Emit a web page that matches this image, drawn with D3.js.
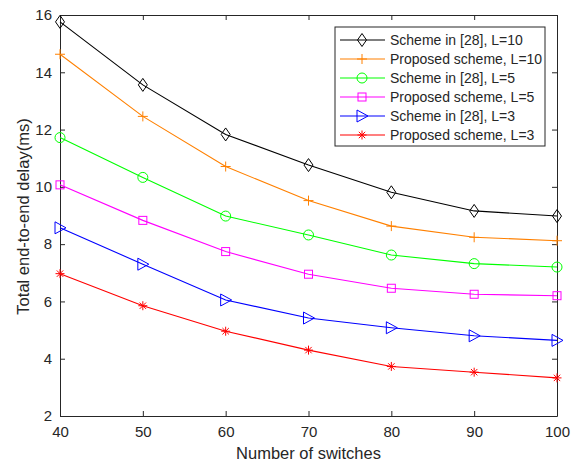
<!DOCTYPE html>
<html>
<head>
<meta charset="utf-8">
<script src="https://cdn.jsdelivr.net/npm/d3@7"></script>
<style>
  body { margin: 0; background: #fff; }
  text { font-family: "Liberation Sans", Arial, sans-serif; fill: #262626; }
</style>
</head>
<body>
<div id="chart"></div>
<script>
// data
const switches = [40, 50, 60, 70, 80, 90, 100];
const schemeL10 = [15.76, 13.56, 11.83, 10.76, 9.81, 9.16, 8.98];
const proposedL10 = [14.63, 12.46, 10.71, 9.52, 8.63, 8.24, 8.12];
const schemeL5 = [11.72, 10.33, 8.98, 8.32, 7.62, 7.32, 7.20];
const proposedL5 = [10.07, 8.83, 7.74, 6.95, 6.46, 6.25, 6.20];
const schemeL3 = [8.57, 7.30, 6.05, 5.42, 5.08, 4.80, 4.64];
const proposedL3 = [6.97, 5.85, 4.96, 4.30, 3.73, 3.53, 3.33];
const seriesNames = ["Scheme in [28], L=10", "Proposed scheme, L=10", "Scheme in [28], L=5",
                     "Proposed scheme, L=5", "Scheme in [28], L=3", "Proposed scheme, L=3"];
const xTicks = [40, 50, 60, 70, 80, 90, 100];
const yTicks = [2, 4, 6, 8, 10, 12, 14, 16];

const series = [
  {name: seriesNames[0], values: schemeL10, color: "#000000", marker: "diamond"},
  {name: seriesNames[1], values: proposedL10, color: "#ff8000", marker: "plus"},
  {name: seriesNames[2], values: schemeL5, color: "#00ff00", marker: "circle"},
  {name: seriesNames[3], values: proposedL5, color: "#ff00ff", marker: "square"},
  {name: seriesNames[4], values: schemeL3, color: "#0000ff", marker: "triangle"},
  {name: seriesNames[5], values: proposedL3, color: "#ff0000", marker: "star"}
];

const W = 581, H = 463;
const margin = {top: 15, right: 24, bottom: 47, left: 60};
const width = W - margin.left - margin.right,
      height = H - margin.top - margin.bottom;

const svg = d3.select("#chart").append("svg")
    .attr("width", W).attr("height", H);
const g = svg.append("g")
    .attr("transform", "translate(" + margin.left + "," + margin.top + ")");

const x = d3.scaleLinear().domain([40, 100]).range([0, width]);
const y = d3.scaleLinear().domain([2, 16]).range([height, 0]);

// axes with inward ticks on all four sides (matlab box)
const tick = 5;
g.append("g").attr("transform", "translate(0," + height + ")")
  .call(d3.axisBottom(x).tickValues(xTicks).tickSizeInner(-tick).tickSizeOuter(0).tickPadding(10))
  .call(a => a.selectAll("text").style("font-size", "15px"));
g.append("g")
  .call(d3.axisLeft(y).tickValues(yTicks).tickSizeInner(-tick).tickSizeOuter(0).tickPadding(8))
  .call(a => a.selectAll("text").style("font-size", "15px"));
g.append("g")
  .call(d3.axisTop(x).tickValues(xTicks).tickSizeInner(-tick).tickSizeOuter(0).tickFormat(""));
g.append("g").attr("transform", "translate(" + width + ",0)")
  .call(d3.axisRight(y).tickValues(yTicks).tickSizeInner(-tick).tickSizeOuter(0).tickFormat(""));
g.selectAll(".domain, .tick line").attr("stroke", "#262626");

// axis titles
svg.append("text")
  .attr("x", margin.left + width / 2).attr("y", 459)
  .attr("text-anchor", "middle").style("font-size", "16.5px")
  .text("Number of switches");
svg.append("text")
  .attr("transform", "translate(29," + (margin.top + height / 2 + 1) + ") rotate(-90)")
  .attr("text-anchor", "middle").style("font-size", "16.5px")
  .text("Total end-to-end delay(ms)");

function drawMarker(sel, type, color) {
  if (type === "diamond") {
    sel.append("path").attr("d", "M0,-6.5L4.5,0L0,6.5L-4.5,0Z")
      .attr("fill", "none").attr("stroke", color);
  } else if (type === "plus") {
    sel.append("path").attr("d", "M-5,0H5M0,-5V5").attr("stroke", color);
  } else if (type === "circle") {
    sel.append("circle").attr("r", 5).attr("fill", "none").attr("stroke", color);
  } else if (type === "square") {
    sel.append("rect").attr("x", -4).attr("y", -4).attr("width", 8).attr("height", 8)
      .attr("fill", "none").attr("stroke", color);
  } else if (type === "triangle") {
    sel.append("path").attr("d", "M6,0L-5,-6L-5,6Z")
      .attr("fill", "none").attr("stroke", color);
  } else if (type === "star") {
    sel.append("path").attr("d", "M-4.5,0H4.5M0,-4.5V4.5M-3.2,-3.2L3.2,3.2M-3.2,3.2L3.2,-3.2")
      .attr("stroke", color);
  }
}

const line = d3.line()
  .x((d, i) => x(switches[i]))
  .y(d => y(d));

series.forEach(s => {
  g.append("path")
    .datum(s.values)
    .attr("d", line)
    .attr("fill", "none")
    .attr("stroke", s.color)
    .attr("stroke-width", 1.1);
  g.selectAll(null)
    .data(s.values)
    .enter()
    .append("g")
      .attr("transform", (d, i) => "translate(" + x(switches[i]) + "," + y(d) + ")")
      .each(function() { drawMarker(d3.select(this), s.marker, s.color); });
});

// legend
const legend = svg.append("g").attr("transform", "translate(335,27)");
legend.append("rect")
  .attr("width", 210).attr("height", 119)
  .attr("fill", "#fff").attr("stroke", "#262626");
series.forEach((s, i) => {
  const row = legend.append("g").attr("transform", "translate(0," + (13 + i * 19) + ")");
  row.append("line").attr("x1", 5).attr("x2", 50)
    .attr("stroke", s.color).attr("stroke-width", 1.1);
  const m = row.append("g").attr("transform", "translate(27,0)");
  drawMarker(m, s.marker, s.color);
  row.append("text").attr("x", 55).attr("y", 5)
    .style("font-size", "14px").text(s.name);
});
</script>
</body>
</html>
